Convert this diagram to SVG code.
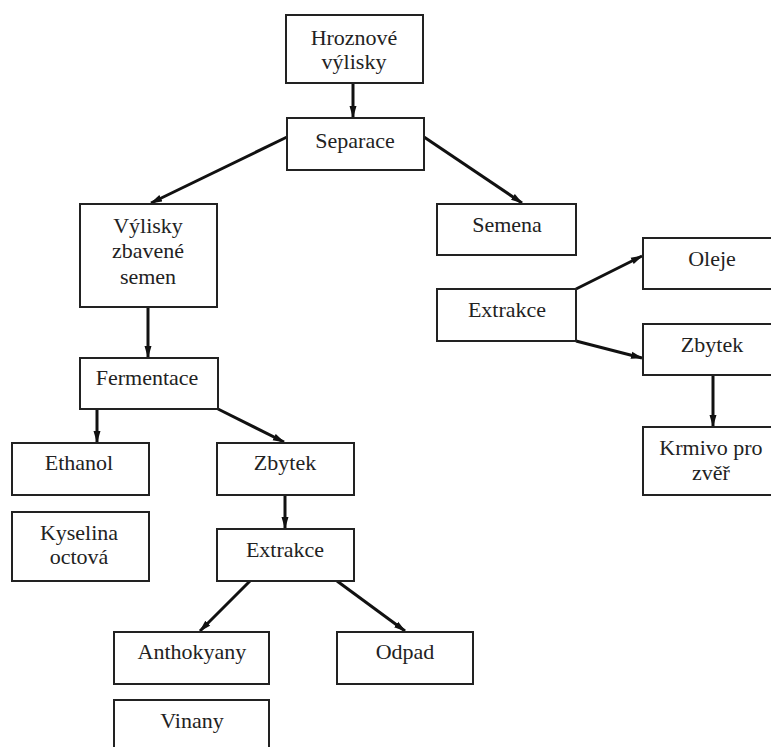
<svg xmlns="http://www.w3.org/2000/svg" width="771" height="747" viewBox="0 0 771 747" font-family="Liberation Serif, Times New Roman, DejaVu Serif, serif">
<defs>
<style>
.box{fill:#fff;stroke:#222;stroke-width:2}
.t{font-family:"Liberation Serif","Times New Roman","DejaVu Serif",serif;font-size:22px;fill:#222;text-anchor:middle}
.c{stroke:#111;stroke-width:3;fill:none;marker-end:url(#ah)}
</style>
<marker id="ah" markerUnits="userSpaceOnUse" markerWidth="12" markerHeight="8" viewBox="0 0 12 8" refX="11" refY="4" orient="auto">
<path d="M0,0.5 L12,4 L0,7.5 z" fill="#111"/>
</marker>
</defs>
<rect width="771" height="747" fill="#fff"/>
<g id="connectors">
<line class="c" x1="353" y1="83" x2="353" y2="117"/>
<line class="c" x1="287" y1="137" x2="151" y2="203"/>
<line class="c" x1="424" y1="137" x2="522" y2="203"/>
<line class="c" x1="148" y1="307" x2="148" y2="357"/>
<line class="c" x1="97" y1="409" x2="97" y2="442"/>
<line class="c" x1="218" y1="409" x2="284" y2="442"/>
<line class="c" x1="285" y1="495" x2="285" y2="528"/>
<line class="c" x1="250" y1="581" x2="200" y2="631"/>
<line class="c" x1="337" y1="581" x2="405" y2="631"/>
<line class="c" x1="576" y1="289" x2="642" y2="256"/>
<line class="c" x1="576" y1="341" x2="642" y2="358"/>
<line class="c" x1="713" y1="375" x2="713" y2="426"/>
</g>
<g id="hroznove"><rect class="box" x="286" y="15" width="137" height="68"/><text class="t" x="354" y="45">Hroznové</text><text class="t" x="354" y="69">výlisky</text></g>
<g id="separace"><rect class="box" x="287" y="118" width="137" height="52"/><text class="t" x="355" y="148">Separace</text></g>
<g id="vylisky"><rect class="box" x="80" y="204" width="137" height="103"/><text class="t" x="148" y="233">Výlisky</text><text class="t" x="148" y="258">zbavené</text><text class="t" x="148" y="284">semen</text></g>
<g id="semena"><rect class="box" x="437" y="204" width="139" height="51"/><text class="t" x="507" y="232">Semena</text></g>
<g id="oleje"><rect class="box" x="643" y="238" width="130" height="51"/><text class="t" x="712" y="266">Oleje</text></g>
<g id="extrakce2"><rect class="box" x="437" y="289" width="139" height="52"/><text class="t" x="507" y="317">Extrakce</text></g>
<g id="zbytek2"><rect class="box" x="643" y="324" width="130" height="51"/><text class="t" x="712" y="352">Zbytek</text></g>
<g id="krmivo"><rect class="box" x="643" y="427" width="130" height="68"/><text class="t" x="711" y="455">Krmivo pro</text><text class="t" x="711" y="480">zvěř</text></g>
<g id="fermentace"><rect class="box" x="80" y="358" width="138" height="51"/><text class="t" x="147" y="385">Fermentace</text></g>
<g id="ethanol"><rect class="box" x="12" y="443" width="137" height="52"/><text class="t" x="79" y="470">Ethanol</text></g>
<g id="zbytek1"><rect class="box" x="217" y="443" width="137" height="52"/><text class="t" x="285" y="470">Zbytek</text></g>
<g id="kyselina"><rect class="box" x="12" y="512" width="137" height="69"/><text class="t" x="79" y="540">Kyselina</text><text class="t" x="79" y="564">octová</text></g>
<g id="extrakce1"><rect class="box" x="217" y="529" width="137" height="52"/><text class="t" x="285" y="557">Extrakce</text></g>
<g id="anthokyany"><rect class="box" x="114" y="632" width="155" height="52"/><text class="t" x="192" y="659">Anthokyany</text></g>
<g id="odpad"><rect class="box" x="337" y="632" width="136" height="52"/><text class="t" x="405" y="659">Odpad</text></g>
<g id="vinany"><rect class="box" x="114" y="700" width="155" height="52"/><text class="t" x="192" y="728">Vinany</text></g>
</svg>
